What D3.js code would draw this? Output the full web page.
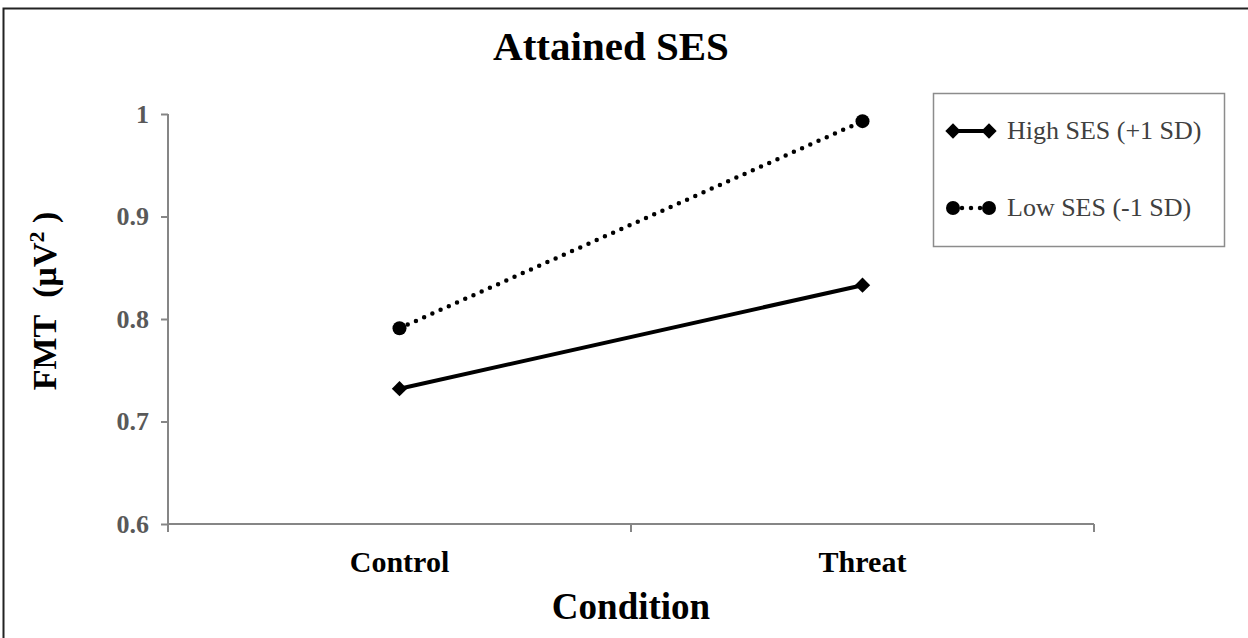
<!DOCTYPE html>
<html>
<head>
<meta charset="utf-8">
<script src="https://cdn.jsdelivr.net/npm/d3@7"></script>
<style>
  body { margin:0; background:#fff; }
  svg { display:block; }
  svg text { font-family:"Liberation Serif","Times New Roman",serif; }
</style>
</head>
<body>
<svg width="1248" height="638"></svg>
<script>
// data
var conditions = ["Control", "Threat"];
var highSES = [0.732, 0.833];
var lowSES = [0.791, 0.993];
var yTicks = [0.6, 0.7, 0.8, 0.9, 1];
var seriesNames = ["High SES (+1 SD)", "Low SES (-1 SD)"];

var svg = d3.select("svg");

// outer frame
svg.append("rect")
   .attr("x",3.5).attr("y",8.5)
   .attr("width",1260).attr("height",660)
   .attr("fill","none").attr("stroke","#222").attr("stroke-width",2);

var x = d3.scaleBand().domain(conditions).range([168,1094]).padding(0);
var y = d3.scaleLinear().domain([0.6,1]).range([524,114]);

// y axis
var yAxis = svg.append("g")
   .attr("transform","translate(168,0)")
   .call(d3.axisLeft(y).tickValues(yTicks).tickSize(7).tickPadding(12)
          .tickFormat(function(d){ return d==1 ? "1" : d3.format(".1f")(d); }));
yAxis.attr("font-family",null);
yAxis.select(".domain").attr("stroke","#868686").attr("stroke-width",2).attr("d","M0,114V524");
yAxis.selectAll("line").attr("stroke","#868686").attr("stroke-width",2);
yAxis.selectAll("text")
   .attr("font-weight","bold")
   .attr("font-size",26).attr("fill","#595959");

// x axis with ticks at band edges
var xAxis = svg.append("g").attr("transform","translate(0,524)");
xAxis.append("line").attr("x1",168).attr("x2",1094)
     .attr("stroke","#868686").attr("stroke-width",2);
var edges = [168, x("Threat"), 1094];
xAxis.selectAll(".tk").data(edges).enter().append("line")
     .attr("x1",function(d){return d;}).attr("x2",function(d){return d;})
     .attr("y1",0).attr("y2",8)
     .attr("stroke","#868686").attr("stroke-width",2);
xAxis.selectAll(".lab").data(conditions).enter().append("text")
     .attr("x",function(d){return x(d)+x.bandwidth()/2;})
     .attr("y",48)
     .attr("text-anchor","middle")
     .attr("font-weight","bold").attr("font-size",30)
     .text(function(d){return d;});

// titles
svg.append("text").attr("x",611).attr("y",60).attr("text-anchor","middle")
   .attr("font-weight","bold").attr("font-size",41).text("Attained SES");
svg.append("text").attr("x",631).attr("y",619).attr("text-anchor","middle")
   .attr("font-weight","bold").attr("font-size",37).text("Condition");
svg.append("text")
   .attr("transform","translate(56,301) rotate(-90)")
   .attr("text-anchor","middle")
   .attr("font-weight","bold").attr("font-size",34)
   .html("FMT&#160;&#160;(μV<tspan dy='-12' font-size='22'>2</tspan><tspan dy='12'>&#160;)</tspan>");

var cx = function(d,i){ return x(conditions[i])+x.bandwidth()/2; };
var line = d3.line().x(cx).y(function(d){return y(d);});

// low SES dotted
svg.append("path").datum(lowSES).attr("d",line)
   .attr("fill","none").attr("stroke","#000").attr("stroke-width",4.5)
   .attr("stroke-linecap","round").attr("stroke-dasharray","0 9");
svg.selectAll(".lowPt").data(lowSES).enter().append("circle")
   .attr("cx",cx).attr("cy",function(d){return y(d);})
   .attr("r",7).attr("fill","#000");

// high SES solid
svg.append("path").datum(highSES).attr("d",line)
   .attr("fill","none").attr("stroke","#000").attr("stroke-width",4);
var diamond = d3.symbol().type(d3.symbolDiamond2).size(150);
svg.selectAll(".highPt").data(highSES).enter().append("path")
   .attr("d",diamond)
   .attr("transform",function(d,i){return "translate("+cx(d,i)+","+y(d)+")";})
   .attr("fill","#000");

// legend
var lg = svg.append("g");
lg.append("rect").attr("x",933.5).attr("y",93.5).attr("width",291).attr("height",153)
  .attr("fill","#fff").attr("stroke","#8c8c8c").attr("stroke-width",1.5);
var rows = [131, 208];
seriesNames.forEach(function(name,i){
  var ry = rows[i];
  lg.append("line").attr("x1",953).attr("x2",989).attr("y1",ry).attr("y2",ry)
    .attr("stroke","#000").attr("stroke-width", i==0 ? 4 : 4.5)
    .attr("stroke-linecap", i==0 ? "butt" : "round")
    .attr("stroke-dasharray", i==0 ? null : "0 9");
  [953, 989].forEach(function(mx){
    if(i==0){
      lg.append("path").attr("d",diamond).attr("transform","translate("+mx+","+ry+")").attr("fill","#000");
    } else {
      lg.append("circle").attr("cx",mx).attr("cy",ry).attr("r",7).attr("fill","#000");
    }
  });
  lg.append("text").attr("x",1007).attr("y",ry+8)
    .attr("font-size",26).attr("fill","#404040").text(name);
});
</script>
</body>
</html>
